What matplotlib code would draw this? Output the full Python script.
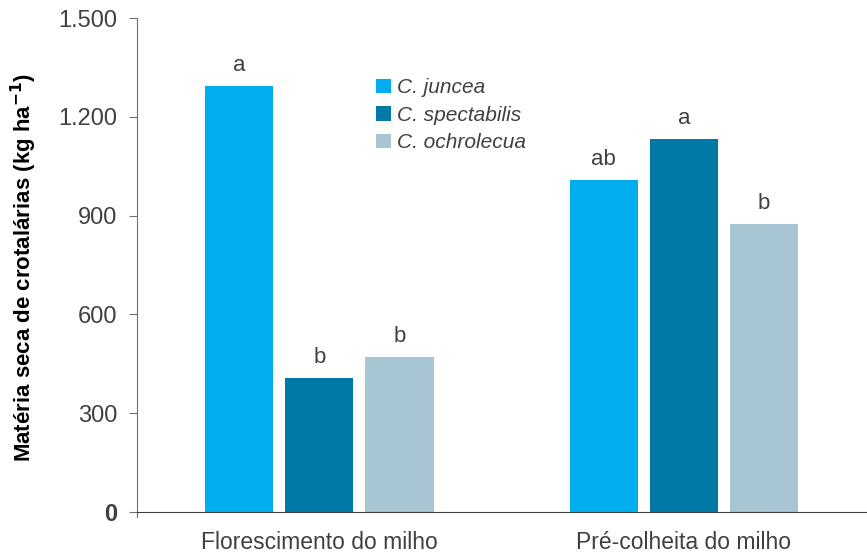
import numpy as np
import matplotlib.pyplot as plt

plt.rcParams['font.family'] = ['Liberation Sans', 'DejaVu Sans']

# Épocas de avaliação e espécies
epocas = ['Florescimento do milho', 'Pré-colheita do milho']
especies = ['C. juncea', 'C. spectabilis', 'C. ochrolecua']
cores = ['#00AEEF', '#0079A6', '#A7C5D3']

# Matéria seca (kg/ha) por espécie em cada época
juncea = [1295, 1008]
spectabilis = [407, 1133]
ochrolecua = [472, 874]
valores = [juncea, spectabilis, ochrolecua]

# Letras do teste de médias
letras = [['a', 'ab'], ['b', 'a'], ['b', 'b']]

texto = '#404040'

fig = plt.figure(figsize=(8.67, 5.55), dpi=100)
ax = fig.add_axes([0.158, 0.0685, 0.841, 0.899])

x = np.arange(len(epocas))
passo = 0.22
largura = 0.187

for i, (nome, vals) in enumerate(zip(especies, valores)):
  pos = x + (i - 1) * passo
  ax.bar(pos, vals, largura, color=cores[i], label=nome, zorder=2)
  for p, v, l in zip(pos, vals, letras[i]):
    ax.text(p, v + 30, l, ha='center', va='bottom', fontsize=16, color=texto)

ax.set_xlim(-0.5, 1.5)
ax.set_ylim(-15, 1500)
ax.spines['bottom'].set_position(('data', 0))
ax.spines['top'].set_visible(False)
ax.spines['right'].set_visible(False)
ax.spines['left'].set_color('#707070')
ax.spines['bottom'].set_color('#404040')

ax.set_yticks([0, 300, 600, 900, 1200, 1500])
ax.set_yticklabels(['0', '300', '600', '900', '1.200', '1.500'])
ax.tick_params(axis='y', direction='out', length=6, color='#707070',
               labelsize=17, labelcolor=texto, pad=8)
ax.get_yticklabels()[0].set_fontweight('bold')

ax.set_xticks(x)
ax.set_xticklabels(epocas)
ax.tick_params(axis='x', length=0, labelsize=16.5, labelcolor=texto, pad=14)

ax.set_ylabel('Matéria seca de crotalárias (kg ha$^{\\mathbf{-1}}$)',
              fontsize=16, fontweight='bold', color='black', labelpad=14)

leg = ax.legend(loc='upper left', bbox_to_anchor=(366 / 867, 1 - 68 / 555),
                bbox_transform=fig.transFigure, frameon=False,
                handlelength=0.7, handleheight=0.7, handletextpad=0.3,
                labelspacing=0.4, borderpad=0, fontsize=15)
for t in leg.get_texts():
  t.set_fontstyle('italic')
  t.set_color(texto)

fig.savefig('out.png', dpi=100)
